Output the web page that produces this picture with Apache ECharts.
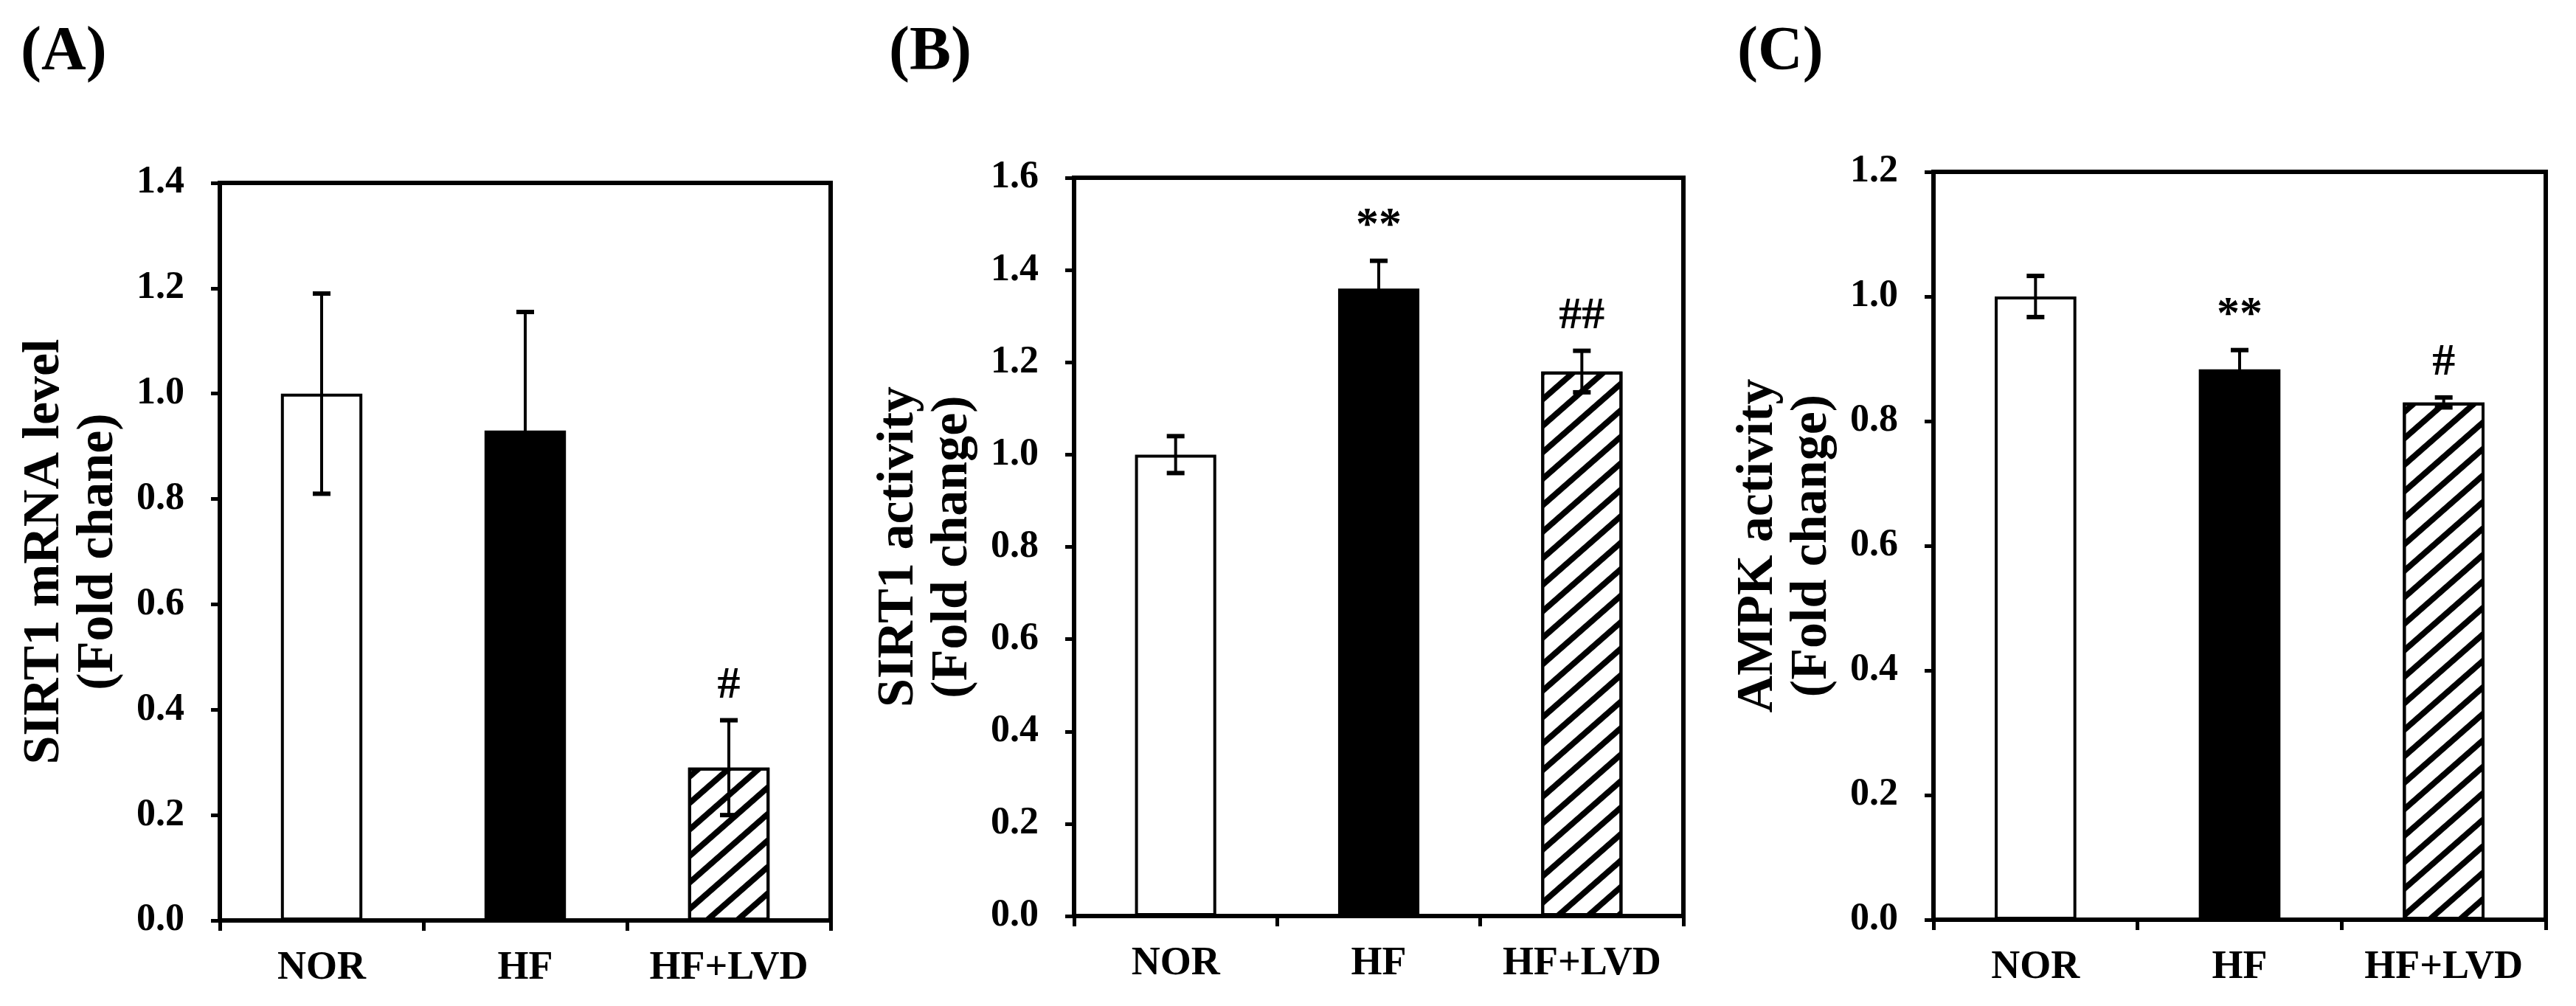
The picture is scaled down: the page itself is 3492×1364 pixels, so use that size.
<!DOCTYPE html>
<html>
<head>
<meta charset="utf-8">
<title>SIRT1 / AMPK</title>
<script src="https://cdn.jsdelivr.net/npm/echarts@6/dist/echarts.min.js"></script>
<style>
  html, body { margin: 0; padding: 0; background: #fff; }
  #main { width: 3492px; height: 1364px; }
</style>
</head>
<body>
<div id="main"></div>
<script>
// groups on the x axis (same for all three panels)
var groups = ['NOR', 'HF', 'HF+LVD'];

// (A) SIRT1 mRNA level
var mrnaMean = [1.0, 0.93, 0.29];
var mrnaErr = [0.19, 0.225, 0.09];
var mrnaSig = ['', '', '#'];

// (B) SIRT1 activity
var sirtMean = [1.0, 1.36, 1.18];
var sirtErr = [0.04, 0.06, 0.045];
var sirtSig = ['', '**', '##'];

// (C) AMPK activity
var ampkMean = [1.0, 0.883, 0.83];
var ampkErr = [0.033, 0.031, 0.008];
var ampkSig = ['', '**', '#'];

var yMax = [1.4, 1.6, 1.2];
var yStep = 0.2;

var FONT = '"Liberation Serif", "Times New Roman", serif';

var barStyles = [
  { color: '#fff', borderColor: '#000', borderWidth: 4 },
  { color: '#000', borderColor: '#000', borderWidth: 4 },
  {
    color: '#fff', borderColor: '#000', borderWidth: 4,
    decal: {
      symbol: 'rect',
      symbolSize: 1,
      color: '#000',
      dashArrayX: [1, 0],
      dashArrayY: [8, 19],
      rotation: -0.72
    }
  }
];

function errorRenderer(sig) {
  return function (params, api) {
    var x = api.value(0);
    var m = api.value(1);
    var e = api.value(2);
    var top = api.coord([x, m + e]);
    var bot = api.coord([x, m - e]);
    var hw = 12;
    var kids = [
      { type: 'line', shape: { x1: top[0], y1: top[1], x2: bot[0], y2: bot[1] }, style: { stroke: '#000', lineWidth: 4 } },
      { type: 'line', shape: { x1: top[0] - hw, y1: top[1], x2: top[0] + hw, y2: top[1] }, style: { stroke: '#000', lineWidth: 6 } },
      { type: 'line', shape: { x1: bot[0] - hw, y1: bot[1], x2: bot[0] + hw, y2: bot[1] }, style: { stroke: '#000', lineWidth: 6 } }
    ];
    var mark = sig[params.dataIndex];
    if (mark) {
      kids.push({
        type: 'text',
        x: top[0],
        y: top[1] - 16,
        style: {
          text: mark,
          fill: '#000',
          fontFamily: FONT,
          fontWeight: 'bold',
          fontSize: 62,
          align: 'center',
          verticalAlign: 'bottom'
        }
      });
    }
    return { type: 'group', children: kids };
  };
}

var panels = [
  { mean: mrnaMean, err: mrnaErr, sig: mrnaSig, name: 'SIRT1 mRNA level\n(Fold chane)' },
  { mean: sirtMean, err: sirtErr, sig: sirtSig, name: 'SIRT1 activity\n(Fold change)' },
  { mean: ampkMean, err: ampkErr, sig: ampkSig, name: 'AMPK activity\n(Fold change)' }
];

var grids = [
  { left: 298, top: 248, width: 828, height: 1000 },
  { left: 1456, top: 241, width: 826, height: 1001 },
  { left: 2621, top: 233, width: 830, height: 1014 }
];

var letters = [
  { text: '(A)', left: 28 },
  { text: '(B)', left: 1205 },
  { text: '(C)', left: 2355 }
];

var option = {
  animation: false,
  backgroundColor: '#fff',
  title: letters.map(function (l) {
    return {
      text: l.text,
      left: l.left,
      top: 30,
      padding: 0,
      textStyle: { fontFamily: FONT, fontWeight: 'bold', fontSize: 84, color: '#000' }
    };
  }),
  grid: grids.map(function (g) {
    return {
      left: g.left, top: g.top, width: g.width, height: g.height,
      show: true, borderColor: '#000', borderWidth: 6, backgroundColor: 'transparent'
    };
  }),
  xAxis: panels.map(function (p, i) {
    return {
      type: 'category',
      gridIndex: i,
      data: groups,
      axisLine: { lineStyle: { color: '#000', width: 6 } },
      axisTick: { show: true, length: 14, lineStyle: { color: '#000', width: 5 } },
      axisLabel: { interval: 0, color: '#000', fontFamily: FONT, fontWeight: 'bold', fontSize: 54, margin: 38 }
    };
  }),
  yAxis: panels.map(function (p, i) {
    return {
      type: 'value',
      gridIndex: i,
      min: 0,
      max: yMax[i],
      interval: yStep,
      name: p.name,
      nameLocation: 'middle',
      nameRotate: 90,
      nameGap: 128,
      nameTextStyle: { color: '#000', fontFamily: FONT, fontWeight: 'bold', fontSize: 70, lineHeight: 73 },
      splitLine: { show: false },
      axisLine: { show: true, lineStyle: { color: '#000', width: 6 } },
      axisTick: { show: true, length: 12, lineStyle: { color: '#000', width: 5 } },
      axisLabel: {
        color: '#000', fontFamily: FONT, fontWeight: 'bold', fontSize: 52, margin: 48,
        formatter: function (v) { return v.toFixed(1); }
      }
    };
  }),
  series: []
};

panels.forEach(function (p, i) {
  option.series.push({
    type: 'bar',
    xAxisIndex: i,
    yAxisIndex: i,
    barWidth: '40%',
    data: p.mean.map(function (v, k) { return { value: v, itemStyle: barStyles[k] }; })
  });
  option.series.push({
    type: 'custom',
    xAxisIndex: i,
    yAxisIndex: i,
    z: 5,
    renderItem: errorRenderer(p.sig),
    encode: { x: 0, y: 1 },
    data: p.mean.map(function (v, k) { return [k, v, p.err[k]]; })
  });
});

var chart = echarts.init(document.getElementById('main'));
chart.setOption(option);
window.addEventListener('resize', function () { chart.resize(); });
</script>
</body>
</html>
